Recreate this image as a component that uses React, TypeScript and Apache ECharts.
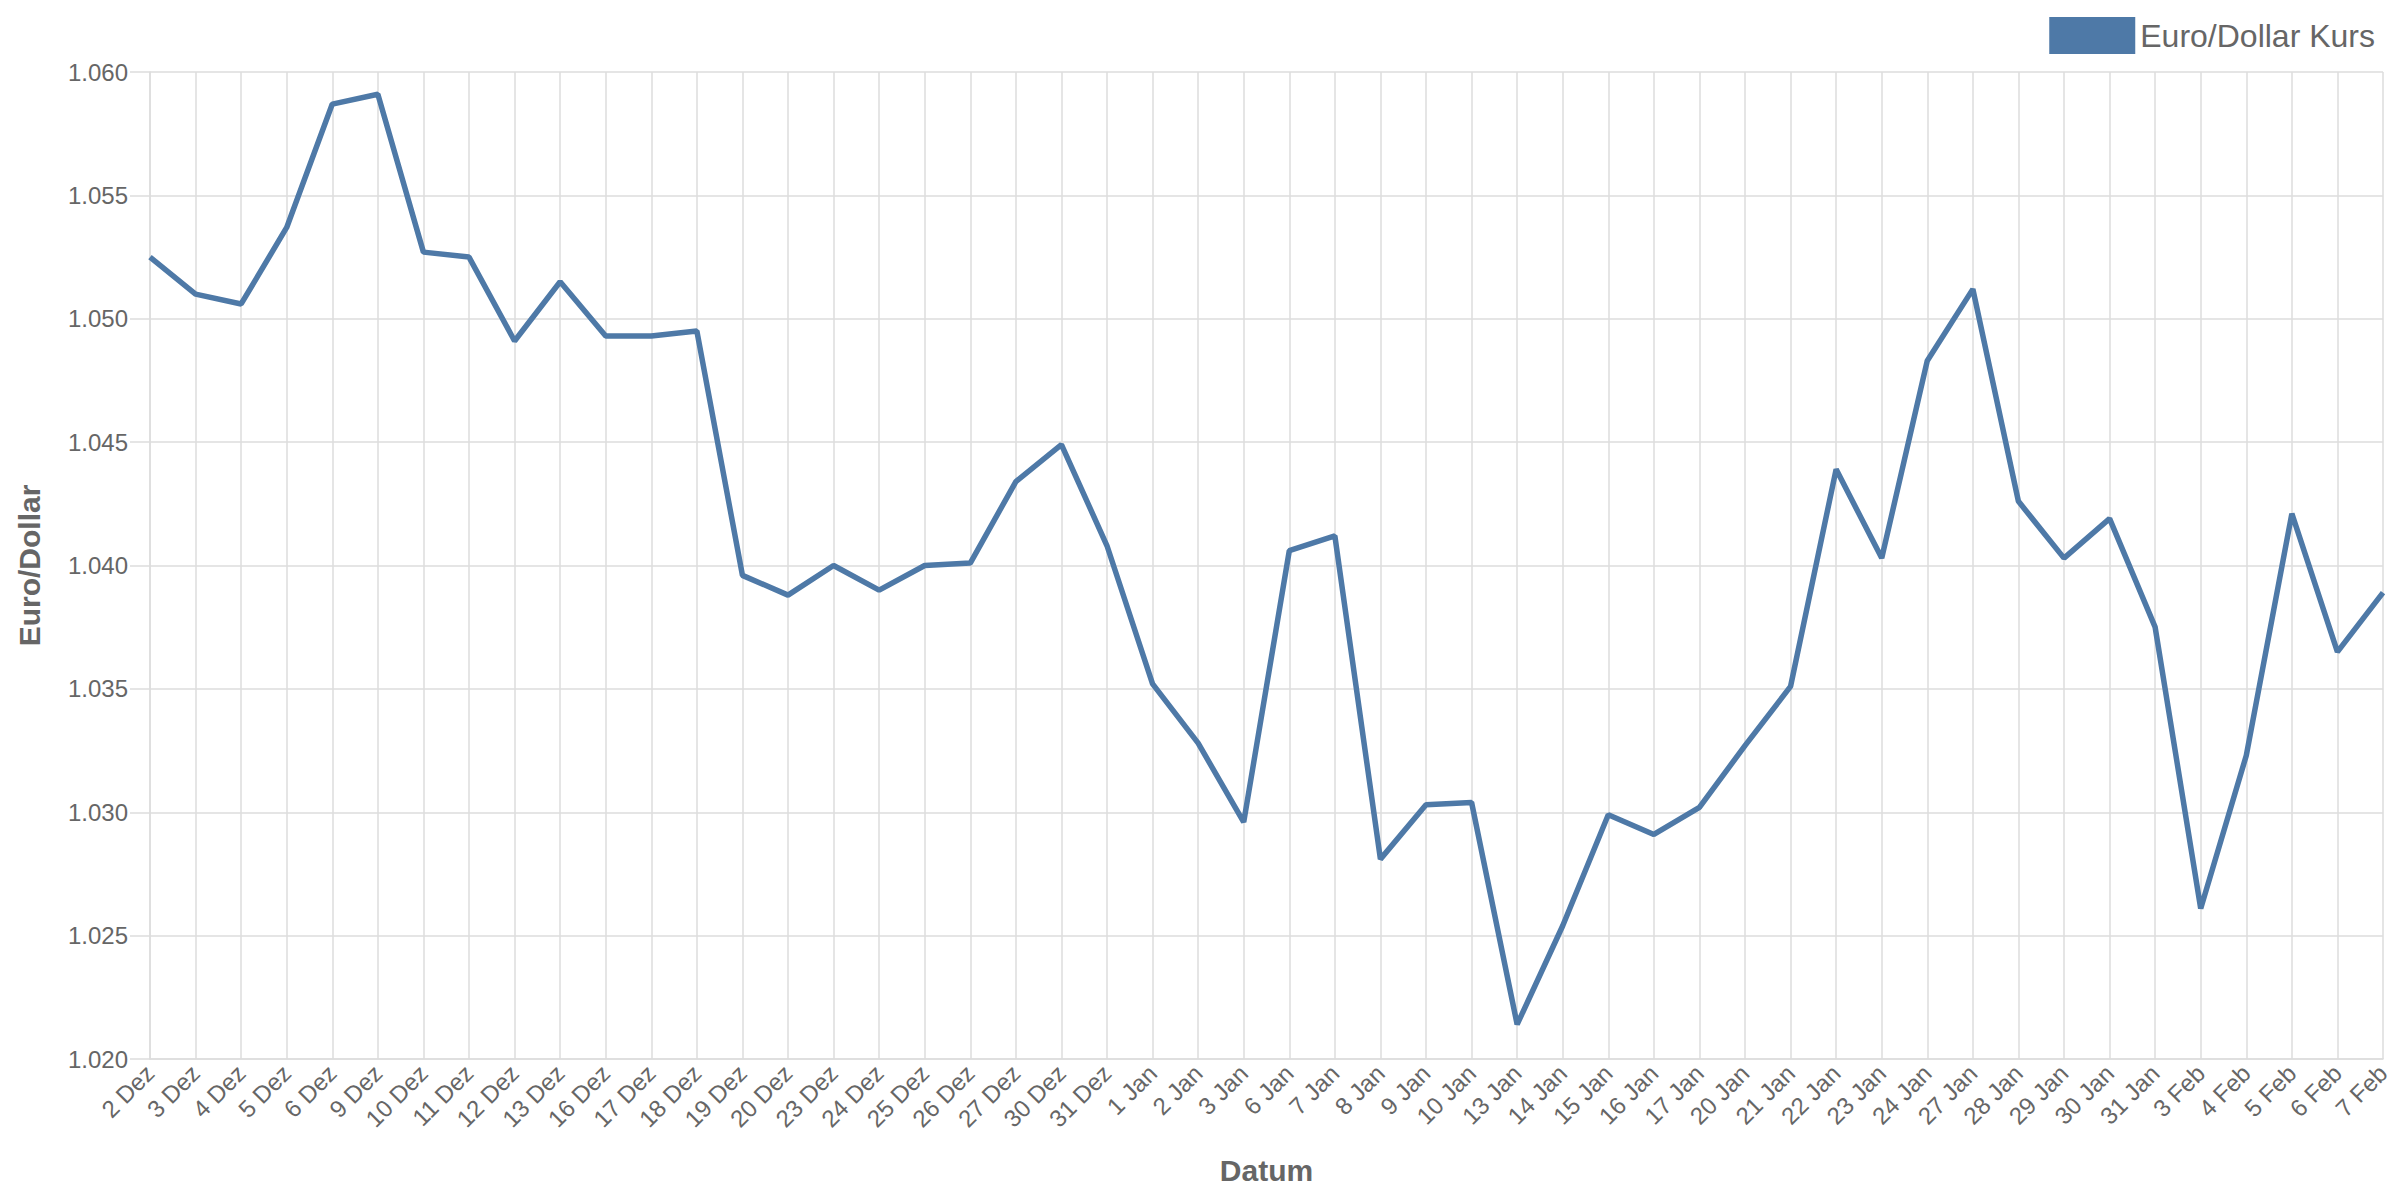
import React, { useEffect, useRef } from "react";
import * as echarts from "echarts";

const categories = [
  "2 Dez", "3 Dez", "4 Dez", "5 Dez", "6 Dez", "9 Dez", "10 Dez", "11 Dez", "12 Dez", "13 Dez",
  "16 Dez", "17 Dez", "18 Dez", "19 Dez", "20 Dez", "23 Dez", "24 Dez", "25 Dez", "26 Dez", "27 Dez",
  "30 Dez", "31 Dez", "1 Jan", "2 Jan", "3 Jan", "6 Jan", "7 Jan", "8 Jan", "9 Jan", "10 Jan",
  "13 Jan", "14 Jan", "15 Jan", "16 Jan", "17 Jan", "20 Jan", "21 Jan", "22 Jan", "23 Jan", "24 Jan",
  "27 Jan", "28 Jan", "29 Jan", "30 Jan", "31 Jan", "3 Feb", "4 Feb", "5 Feb", "6 Feb", "7 Feb",
];

const euroDollar = [
  1.0525, 1.0510, 1.0506, 1.0537, 1.0587, 1.0591, 1.0527, 1.0525, 1.0491, 1.0515,
  1.0493, 1.0493, 1.0495, 1.0396, 1.0388, 1.0400, 1.0390, 1.0400, 1.0401, 1.0434,
  1.0449, 1.0408, 1.0352, 1.0328, 1.0296, 1.0406, 1.0412, 1.0281, 1.0303, 1.0304,
  1.0214, 1.0254, 1.0299, 1.0291, 1.0302, 1.0327, 1.0351, 1.0439, 1.0403, 1.0483,
  1.0512, 1.0426, 1.0403, 1.0419, 1.0375, 1.0261, 1.0323, 1.0421, 1.0365, 1.0389,
];

const seriesName = "Euro/Dollar Kurs";
const yMin = 1.02;
const yMax = 1.06;
const yInterval = 0.005;

const FONT = "'Liberation Sans', Arial, sans-serif";
const GRID_COLOR = "#dddddd";
const TEXT_COLOR = "#666666";

export default function App() {
  const ref = useRef<HTMLDivElement>(null);

  useEffect(() => {
    document.body.style.margin = "0";
    if (!ref.current) return;
    const chart = echarts.init(ref.current, undefined, { renderer: "svg" });
    chart.setOption({
      animation: false,
      textStyle: { fontFamily: FONT },
      legend: {
        data: [seriesName],
        right: 20,
        top: 12,
        icon: "rect",
        itemWidth: 86,
        itemHeight: 37,
        itemGap: 15,
        textStyle: { fontSize: 32, color: TEXT_COLOR, fontFamily: FONT },
      },
      grid: { left: 150, right: 17, top: 72, bottom: 141, containLabel: false },
      xAxis: {
        type: "category",
        data: categories,
        boundaryGap: false,
        name: "Datum",
        nameLocation: "middle",
        nameGap: 96,
        nameTextStyle: { fontSize: 30, color: TEXT_COLOR, fontWeight: "bold", fontFamily: FONT },
        axisLine: { show: true, lineStyle: { color: GRID_COLOR, width: 1.5 } },
        axisTick: { show: false },
        axisLabel: {
          rotate: 45,
          interval: 0,
          fontSize: 24,
          color: TEXT_COLOR,
          margin: 10,
          fontFamily: FONT,
        },
        splitLine: { show: true, lineStyle: { color: GRID_COLOR, width: 1.5 } },
      },
      yAxis: {
        type: "value",
        min: yMin,
        max: yMax,
        interval: yInterval,
        name: "Euro/Dollar",
        nameLocation: "middle",
        nameGap: 106,
        nameTextStyle: { fontSize: 30, color: TEXT_COLOR, fontWeight: "bold", fontFamily: FONT },
        axisLine: { show: true, lineStyle: { color: GRID_COLOR, width: 1.5 } },
        axisTick: { show: true, length: 20, lineStyle: { color: GRID_COLOR, width: 1.5 } },
        axisLabel: {
          fontSize: 24,
          color: TEXT_COLOR,
          margin: 22,
          fontFamily: FONT,
          formatter: (v: number) => v.toFixed(3),
        },
        splitLine: { show: true, lineStyle: { color: GRID_COLOR, width: 1.5 } },
      },
      series: [
        {
          name: seriesName,
          type: "line",
          data: euroDollar,
          symbol: "none",
          lineStyle: { color: "#4e79a7", width: 5.5 },
          itemStyle: { color: "#4e79a7" },
        },
      ],
    });
    return () => chart.dispose();
  }, []);

  return <div ref={ref} style={{ width: 2400, height: 1200 }} />;
}
